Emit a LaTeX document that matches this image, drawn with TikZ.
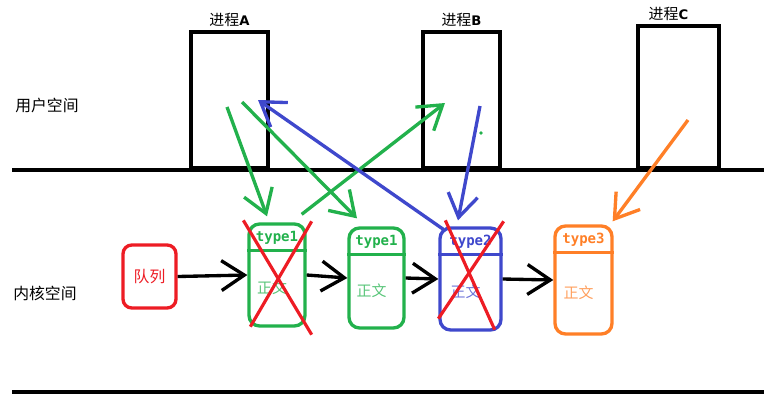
\documentclass[tikz,border=0pt]{standalone}
\usepackage{fontspec}
\newfontfamily\cjk{Noto Sans CJK SC}
\newfontfamily\mono{DejaVu Sans Mono}
\newfontfamily\lat{DejaVu Sans}
\usetikzlibrary{arrows.meta,positioning}
\definecolor{pgreen}{RGB}{34,177,76}
\definecolor{pred}{RGB}{237,28,36}
\definecolor{pblue}{RGB}{63,72,204}
\definecolor{porange}{RGB}{255,127,39}
\tikzset{
  proc/.style={draw, line width=2pt, minimum width=1.54cm, minimum height=2.72cm, inner sep=0pt},
  plabel/.style={font=\cjk\fontsize{8.5}{9}\selectfont, inner sep=1pt},
  space/.style={font=\cjk\fontsize{9}{10}\selectfont},
  msg/.style={draw=#1, line width=1.9pt, rounded corners=6pt, inner sep=0pt},
  tlabel/.style={font=\mono\bfseries\fontsize{8}{9}\selectfont, inner sep=0pt},
  body/.style={font=\cjk\fontsize{8.5}{9}\selectfont, inner sep=0pt},
  arr/.style={line width=1.9pt, -{Straight Barb[length=13pt,width=17pt]}},
  cross/.style={pred, line width=1.8pt}
}
\begin{document}
\begin{tikzpicture}[x=0.02cm,y=-0.02cm]
    \useasboundingbox (0,0) rectangle (764,410);

    % Lineas de separacion
    \draw[line width=2.4pt] (12,170) -- (764,170);
    \draw[line width=2.4pt] (12,392) -- (764,392);
    \node[space] (user) at (47,105) {用户空间};
    \node[space] (kernel) at (45,293) {内核空间};

    % Procesos
    \node[proc] (procA) at (229.5,100) {};
    \node[proc] (procB) at (461.5,100) {};
    \node[proc, minimum width=1.62cm, minimum height=2.84cm] (procC) at (678.5,97) {};
    \node[plabel, above=1pt of procA] {进程{\lat\bfseries\fontsize{7.5}{9}\selectfont A}};
    \node[plabel, above=1pt of procB] {进程{\lat\bfseries\fontsize{7.5}{9}\selectfont B}};
    \node[plabel, above=1pt of procC, xshift=-5.7pt] {进程{\lat\bfseries\fontsize{7.5}{9}\selectfont C}};

    % Cola y mensajes
    \node[draw=pred, line width=1.9pt, rounded corners=5pt, minimum width=1.06cm,
          minimum height=1.26cm, text=pred, font=\cjk\fontsize{9}{10}\selectfont] (duilie) at (149.5,276.5) {队列};
    \node[msg=pgreen, minimum width=1.12cm, minimum height=2.04cm] (m1) at (277,275) {};
    \node[msg=pgreen, minimum width=1.1cm, minimum height=2cm] (m2) at (376.5,278) {};
    \node[msg=pblue, minimum width=1.22cm, minimum height=2.04cm] (m3) at (470.5,279) {};
    \node[msg=porange, minimum width=1.14cm, minimum height=2.16cm] (m4) at (583.5,280) {};
    \foreach \m/\c/\t in {m1/pgreen/type1, m2/pgreen/type1, m3/pblue/type2, m4/porange/type3} {
        \draw[\c, line width=1.9pt] ([yshift=-0.56cm]\m.north west) -- ([yshift=-0.56cm]\m.north east);
        \node[tlabel, text=\c] at ([yshift=-0.3cm]\m.north) {\t};
        \node[body, text=\c!75] at ([shift={(-5,13)}]\m.center) {正文};
    }

    % Enlaces de la cola
    \draw[arr] (duilie.east) -- (m1.west);
    \draw[arr] (m1.east) -- (m2.west);
    \draw[arr] (m2.east) -- (m3.west);
    \draw[arr] (m3.east) -- (m4.west);

    % Mensajes borrados
    \draw[cross] ([shift={(-4,-2)}]m1.north west) -- ([shift={(5,7)}]m1.south east);
    \draw[cross] ([shift={(5,-1)}]m1.north east) -- ([shift={(3,-1)}]m1.south west);
    \draw[cross] ([shift={(7,-6)}]m3.north west) -- ([shift={(-8,-2)}]m3.south east);
    \draw[cross] ([shift={(1,-5)}]m3.north east) -- ([shift={(0,-13)}]m3.south west);

    % Envio y recepcion
    \coordinate (gA1) at (227,107);
    \coordinate (gA2) at (242,102);
    \coordinate (gB) at (445,103);
    \coordinate (bA) at (258,100);
    \coordinate (bB) at (480,106);
    \coordinate (oC) at (688,120);
    \draw[arr, pgreen] (gA1) -- ([shift={(-10,-6)}]m1.north);
    \draw[arr, pgreen] (gA2) -- ([shift={(-19.5,-8)}]m2.north);
    \draw[arr, pgreen] ([shift={(-5,-8)}]m1.north east) -- (gB);
    \draw[arr, pblue] ([shift={(5,3)}]m3.north west) -- (bA);
    \draw[arr, pblue] (bB) -- ([shift={(-12.5,-6)}]m3.north);
    \draw[arr, porange] (oC) -- ([shift={(-1,-3)}]m4.north east);
    \fill[pgreen] (481,133) circle (1.8);
\end{tikzpicture}
\end{document}
